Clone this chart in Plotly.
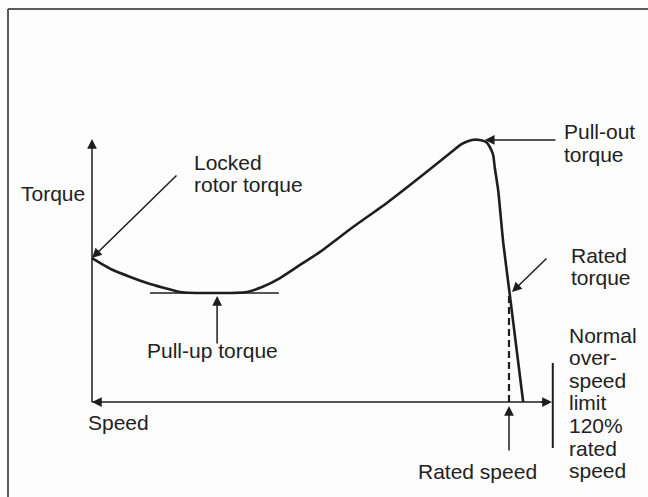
import plotly.graph_objects as go

# ---- data (speed in % of rated speed, torque in % of rated torque) ----
speed = [0, 5.0, 13.2, 21.1, 29.5, 37.2, 40.8, 45.1, 49.9, 54.7, 62.6, 70.7, 78.7, 85.9,
         88.7, 91.1, 93.0, 94.5, 95.4, 96.2, 96.6, 97.4, 98.6, 100.2, 101.9, 103.4]
torque = [133.3, 122.2, 110.2, 101.9, 100.9, 101.9, 106.5, 114.8, 126.9, 139.0, 162.0, 184.3, 208.3, 230.6,
          238.9, 242.6, 242.6, 240.7, 236.1, 228.7, 216.7, 196.3, 148.1, 99.1, 46.3, 0]

rated_speed = 100.0
rated_torque = 100.0
locked_rotor_torque = 133.3
pull_up_speed = 30.0
pull_up_torque = 100.9
pull_up_span = [13.9, 44.8]
pull_out_speed = 94.2
pull_out_torque = 242.6
overspeed_limit = 110.5
axis_x_end = 110.3
axis_y_end = 243.5

labels_right_block = ["Normal", "over-", "speed", "limit", "120%", "rated", "speed"]

# ---- pixel <-> data mapping of the drawing ----
W, H = 648, 497
X0, Y0 = 92, 402           # origin pixel
SX, SY = 4.17, 1.08        # px per unit


def dx(px):
    return (px - X0) / SX


def dy(py):
    return (Y0 - py) / SY


INK = "#1e1e1e"
FONT = dict(family="Liberation Sans, Arial, sans-serif", size=21, color="#222222")

fig = go.Figure()

# torque-speed curve
fig.add_trace(go.Scatter(x=speed, y=torque, mode="lines",
                         line=dict(color=INK, width=2.6, shape="spline", smoothing=0.5),
                         hoverinfo="skip"))
# axes
fig.add_trace(go.Scatter(x=[0, 0], y=[0, axis_y_end - 6], mode="lines",
                         line=dict(color=INK, width=1.5), hoverinfo="skip"))
fig.add_trace(go.Scatter(x=[0, axis_x_end - 2], y=[0, 0], mode="lines",
                         line=dict(color=INK, width=1.6), hoverinfo="skip"))
# pull-up tangent line
fig.add_trace(go.Scatter(x=pull_up_span, y=[pull_up_torque, pull_up_torque], mode="lines",
                         line=dict(color=INK, width=1.5), hoverinfo="skip"))
# rated speed dashed line
fig.add_trace(go.Scatter(x=[rated_speed, rated_speed], y=[0, rated_torque], mode="lines",
                         line=dict(color=INK, width=2.2, dash="7px,4px"), hoverinfo="skip"))
# overspeed limit line
fig.add_trace(go.Scatter(x=[overspeed_limit, overspeed_limit], y=[dy(363), dy(448)], mode="lines",
                         line=dict(color=INK, width=2), hoverinfo="skip"))

ann = []


def arrow(hx, hy, tx, ty):
    ann.append(dict(x=hx, y=hy, ax=tx, ay=ty, xref="x", yref="y", axref="x", ayref="y",
                    text="", showarrow=True, arrowhead=2, arrowsize=1.3, arrowwidth=1.5,
                    arrowcolor=INK, standoff=0))


# axis arrowheads
arrow(0, axis_y_end, 0, axis_y_end - 8)
arrow(axis_x_end, 0, axis_x_end - 3, 0)
arrow(0, 0, 2, 0)
# callout arrows
arrow(0, locked_rotor_torque, dx(178), dy(174))
arrow(pull_up_speed, dy(296), pull_up_speed, dy(345))
arrow(pull_out_speed, pull_out_torque, dx(557), pull_out_torque)
arrow(dx(512), dy(292), dx(548), dy(257))
arrow(rated_speed, dy(406), rated_speed, dy(452))


def label(text, px, py):
    ann.append(dict(x=px / W, y=1 - py / H, xref="paper", yref="paper", text=text,
                    showarrow=False, xanchor="left", yanchor="middle", font=FONT))


label("Torque", 19, 193)
label("Locked", 192, 162)
label("rotor torque", 192, 184)
label("Pull-out", 562, 132)
label("torque", 562, 154)
label("Rated", 569, 255)
label("torque", 569, 277)
label("Pull-up torque", 145, 350)
label("Speed", 86, 422)
label("Rated speed", 416, 471)
for i, t in enumerate(labels_right_block):
    label(t, 567, 335 + i * 22.6)

fig.update_layout(
    width=W, height=H,
    margin=dict(l=0, r=0, t=0, b=0),
    paper_bgcolor="#fdfdfd", plot_bgcolor="#fdfdfd",
    showlegend=False,
    xaxis=dict(range=[dx(0), dx(W)], visible=False, fixedrange=True),
    yaxis=dict(range=[dy(H), dy(0)], visible=False, fixedrange=True),
    annotations=ann,
    shapes=[
        dict(type="line", xref="paper", yref="paper", x0=8 / W, x1=8 / W, y0=0, y1=1 - 9 / H,
             line=dict(color="#5a5a5a", width=2)),
        dict(type="line", xref="paper", yref="paper", x0=8 / W, x1=1, y0=1 - 9 / H, y1=1 - 9 / H,
             line=dict(color="#5a5a5a", width=2)),
    ],
)

fig.write_html("out.html", config={"displayModeBar": False},
               post_script="document.body.style.margin='0px';document.body.style.overflow='hidden';")
